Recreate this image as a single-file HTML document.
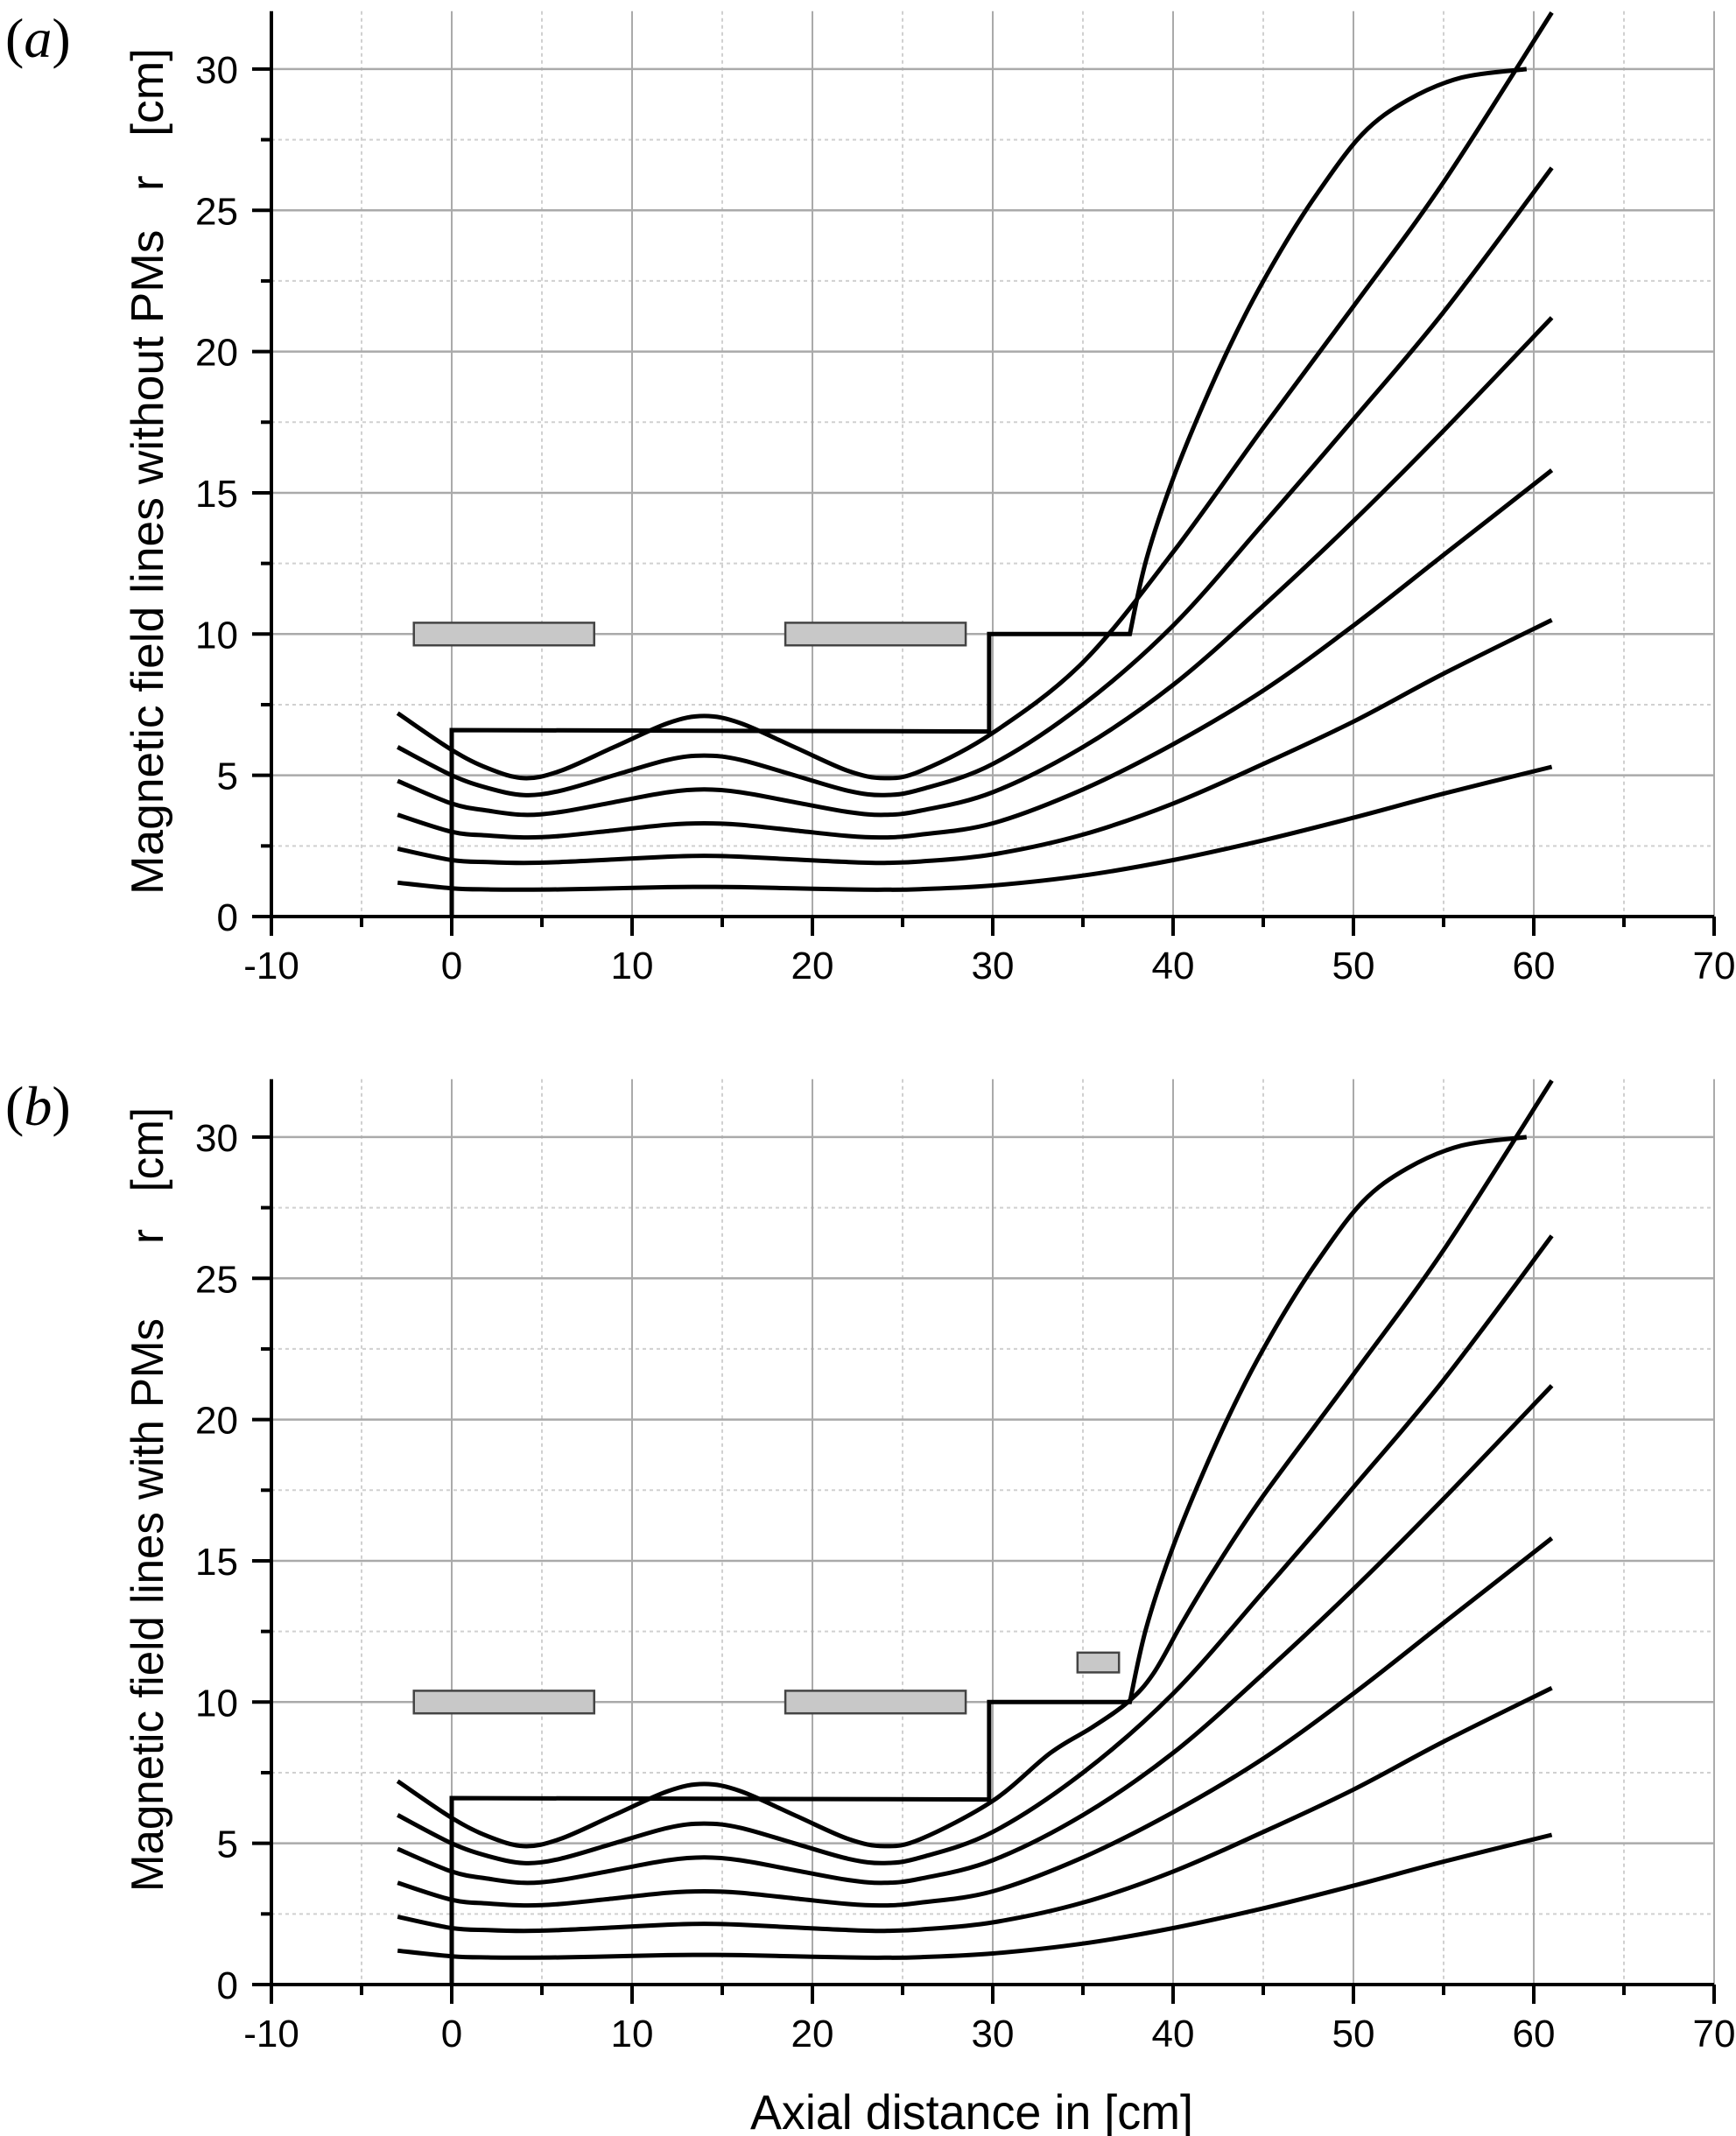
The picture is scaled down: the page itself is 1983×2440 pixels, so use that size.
<!DOCTYPE html>
<html><head><meta charset="utf-8"><style>
html,body{margin:0;padding:0;background:#fff}
svg{display:block}
text{font-family:"Liberation Sans",sans-serif;fill:#000}
</style></head><body>
<svg id="chart" width="1983" height="2440" viewBox="0 0 1983 2440" xmlns="http://www.w3.org/2000/svg">
<g id="panelA"></g>
<g id="panelB"></g>
<text x="857" y="2432" font-size="56" textLength="506" lengthAdjust="spacingAndGlyphs">Axial distance in [cm]</text>
</svg>
<script>
// ---- data ----
const xTicks = [-10,0,10,20,30,40,50,60,70];
const yTicks = [0,5,10,15,20,25,30];
const fieldX = [-3,0,2,4,6,9,12,14,16,19,22,24,26,30,35,40,45,50,55,61];
const line1 = [1.2,1.0,0.96,0.95,0.96,1.0,1.04,1.05,1.04,1.0,0.96,0.95,0.97,1.1,1.45,2.0,2.7,3.5,4.35,5.3];
const line2 = [2.4,2.0,1.93,1.9,1.93,2.02,2.12,2.15,2.12,2.02,1.93,1.9,1.95,2.2,2.9,4.0,5.4,6.9,8.6,10.5];
const line3 = [3.6,3.0,2.87,2.8,2.85,3.05,3.25,3.3,3.25,3.05,2.85,2.8,2.9,3.3,4.5,6.1,8.0,10.3,12.8,15.8];
const line4 = [4.8,4.0,3.75,3.6,3.7,4.05,4.4,4.5,4.4,4.05,3.7,3.6,3.75,4.4,6.0,8.2,11.0,14.0,17.2,21.2];
const line5 = [6.0,5.0,4.55,4.3,4.45,5.0,5.55,5.7,5.55,5.0,4.45,4.3,4.5,5.4,7.5,10.3,13.9,17.6,21.4,26.5];
const line6X = [-3,0,2,4,6,9,12,14,16,19,22,24,26,30,35,40,45,50,55,61];
const line6 = [7.2,5.9,5.25,4.9,5.15,6.0,6.85,7.1,6.85,6.0,5.15,4.9,5.15,6.5,9.0,12.9,17.3,21.6,26.0,32.0];
const line6bX = [-3,0,2,4,6,9,12,14,16,19,22,24,26,30,33.2,35.5,37.5,38.9,40.5,42.2,45,50,55,61];
const line6b = [7.2,5.9,5.25,4.9,5.15,6.0,6.85,7.1,6.85,6.0,5.15,4.9,5.15,6.5,8.2,9.1,10.0,11.0,12.8,14.6,17.3,21.6,26.0,32.0];
const stepX = [0,0,29.8,29.8,37.6];
const stepR = [0,6.6,6.55,10,10];
const curveX = [37.6,38.5,40,42,44,46,48,50.5,53,56,59.6];
const curveR = [10,12.6,15.5,18.6,21.3,23.6,25.6,27.7,28.9,29.7,30.0];
const coilX0 = [-2.1,18.5];
const coilX1 = [7.9,28.5];
const coilR0 = [9.6,9.6];
const coilR1 = [10.4,10.4];
const pmX = [34.7,37.0];
const pmR = [11.05,11.75];

const NS="http://www.w3.org/2000/svg";
function mk(tag,attrs,parent){const e=document.createElementNS(NS,tag);for(const k in attrs)e.setAttribute(k,attrs[k]);parent.appendChild(e);return e;}

function catmull(pts){
  let d="M"+pts[0][0].toFixed(1)+","+pts[0][1].toFixed(1);
  for(let i=0;i<pts.length-1;i++){
    const p0=pts[i-1]||pts[i],p1=pts[i],p2=pts[i+1],p3=pts[i+2]||p2;
    const c1=[p1[0]+(p2[0]-p0[0])/6,p1[1]+(p2[1]-p0[1])/6];
    const c2=[p2[0]-(p3[0]-p1[0])/6,p2[1]-(p3[1]-p1[1])/6];
    d+="C"+c1[0].toFixed(1)+","+c1[1].toFixed(1)+" "+c2[0].toFixed(1)+","+c2[1].toFixed(1)+" "+p2[0].toFixed(1)+","+p2[1].toFixed(1);
  }
  return d;
}

function drawPanel(g,y0,withPM,label,title,tStart,tEnd){
  const X0=310,X1=1958,xmin=-10,xmax=70;
  const ppu=32.27, ymax=32.05;
  const sx=v=>X0+(v-xmin)/(xmax-xmin)*(X1-X0);
  const sy=v=>y0-v*ppu;
  const top=sy(ymax);
  for(let v=-5;v<70;v+=10){
    const l=mk('line',{x1:sx(v),x2:sx(v),y1:top,y2:y0,stroke:'#d0d0d0','stroke-width':2,'stroke-dasharray':'4,4'},g);
    
    
  }
  for(let v=2.5;v<ymax;v+=5){
    const l=mk('line',{x1:X0,x2:X1,y1:sy(v),y2:sy(v),stroke:'#d0d0d0','stroke-width':2,'stroke-dasharray':'4,4'},g);
    
    
  }
  xTicks.forEach(v=>{ if(v===xmin) return;
    const l=mk('line',{x1:sx(v),x2:sx(v),y1:top,y2:y0,stroke:'#aaa','stroke-width':2},g);
    
    
  });
  yTicks.forEach(v=>{ if(v===0) return;
    const l=mk('line',{x1:X0,x2:X1,y1:sy(v),y2:sy(v),stroke:'#aaa','stroke-width':2.5},g);
    
    
  });
  const ax=mk('line',{x1:X0-20,x2:X1,y1:y0,y2:y0,stroke:'#000','stroke-width':4},g);
  
  
  const ay=mk('line',{x1:X0,x2:X0,y1:top,y2:y0+22,stroke:'#000','stroke-width':4},g);
  
  
  xTicks.forEach(v=>{
    const t=mk('line',{x1:sx(v),x2:sx(v),y1:y0,y2:y0+22,stroke:'#000','stroke-width':4},g);
    
    
    const tx=mk('text',{x:sx(v),y:y0+71,'font-size':44,'text-anchor':'middle'},g);
    tx.textContent=v;
    
    
  });
  for(let v=-5;v<70;v+=10){
    const t=mk('line',{x1:sx(v),x2:sx(v),y1:y0,y2:y0+12,stroke:'#000','stroke-width':4},g);
    
    
  }
  yTicks.forEach(v=>{
    const t=mk('line',{x1:X0-22,x2:X0,y1:sy(v),y2:sy(v),stroke:'#000','stroke-width':4},g);
    
    
    const tx=mk('text',{x:272,y:sy(v)+16,'font-size':44,'text-anchor':'end'},g);
    tx.textContent=v;
    
    
  });
  for(let v=2.5;v<ymax;v+=5){
    const t=mk('line',{x1:X0-12,x2:X0,y1:sy(v),y2:sy(v),stroke:'#000','stroke-width':4},g);
    
    
  }
  const mid=(tStart+tEnd)/2;
  const yt=mk('text',{x:0,y:0,'font-size':52,'text-anchor':'middle',style:'white-space:pre',transform:`translate(186,${mid}) rotate(-90)`,textLength:tEnd-tStart,lengthAdjust:'spacingAndGlyphs'},g);
  yt.textContent=title;
  
  
  const pl=mk('text',{x:6,y:y0-982,'font-size':64,style:'font-family:"Liberation Serif",serif'},g);
  pl.innerHTML='(<tspan font-style="italic">'+label+'</tspan>)';
  
  
  for(let i=0;i<coilX0.length;i++){
    const r=mk('rect',{x:sx(coilX0[i]),y:sy(coilR1[i]),width:sx(coilX1[i])-sx(coilX0[i]),height:sy(coilR0[i])-sy(coilR1[i]),fill:'#c8c8c8',stroke:'#444','stroke-width':2.5},g);
    
    
  }
  if(withPM){
    const r=mk('rect',{x:sx(pmX[0]),y:sy(pmR[1]),width:sx(pmX[1])-sx(pmX[0]),height:sy(pmR[0])-sy(pmR[1]),fill:'#c8c8c8',stroke:'#444','stroke-width':2.5},g);
    
    
  }
  const lines=[line1,line2,line3,line4,line5];
  lines.forEach((L,i)=>{
    const p=mk('path',{d:catmull(fieldX.map((x,j)=>[sx(x),sy(L[j])])),fill:'none',stroke:'#000','stroke-width':5},g);
    
    
  });
  const X6=withPM?line6bX:line6X, R6=withPM?line6b:line6;
  const p6=mk('path',{d:catmull(X6.map((x,j)=>[sx(x),sy(R6[j])])),fill:'none',stroke:'#000','stroke-width':5},g);
  
  
  let d="M"+stepX.map((x,j)=>sx(x).toFixed(1)+","+sy(stepR[j]).toFixed(1)).join("L");
  const cd=catmull(curveX.map((x,j)=>[sx(x),sy(curveR[j])]));
  d+=" L"+cd.slice(1);
  const ch=mk('path',{d:d,fill:'none',stroke:'#000','stroke-width':5,'stroke-linejoin':'miter'},g);
  
  
}
drawPanel(document.getElementById('panelA'),1047,false,'a','Magnetic field lines without PMs   r   [cm]',55,1022);
drawPanel(document.getElementById('panelB'),2267,true,'b','Magnetic field lines with PMs      r   [cm]',1265,2161);
</script>
</body></html>
